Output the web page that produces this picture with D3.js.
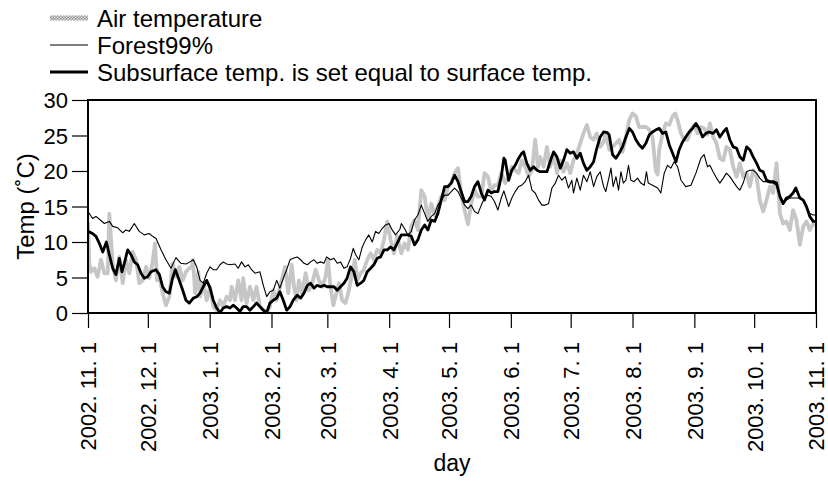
<!DOCTYPE html>
<html>
<head>
<meta charset="utf-8">
<script src="https://cdn.jsdelivr.net/npm/d3@7"></script>
<style>
  html, body { margin: 0; padding: 0; background: #fff; }
  svg { display: block; font-family: "Liberation Sans", Arial, Helvetica, sans-serif; }
</style>
</head>
<body>
<svg id="chart" width="828" height="481"></svg>
<script>
// Daily temperatures, 2002-11-01 .. 2003-11-01 (day offsets from start)
const startDate = Date.UTC(2002, 10, 1);
const endDate = Date.UTC(2003, 10, 1);

const seriesNames = ["Air temperature", "Forest99%", "Subsurface temp. is set equal to surface temp."];
const yTicks = [0, 5, 10, 15, 20, 25, 30];

const airDay = [0,0.7,1.5,3.2,4.8,6.5,8.2,9.9,10.7,12.4,14.0,15.7,17.4,19.0,20.7,22.4,24.1,25.7,27.4,29.1,30.7,32.4,33.6,34.6,35.8,37.4,39.1,40.8,42.4,44.1,45.8,47.5,49.1,50.8,
  52.0,52.6,53.7,55.3,56.2,57.8,59.5,61.2,62.8,64.5,66.2,67.8,69.5,71.2,72.0,73.7,75.3,77.0,77.8,79.5,81.2,82.9,84.5,86.2,87.9,89.6,91.2,92.9,94.6,97.1,98.8,100.4,102.1,
  103.3,104.6,105.8,107.4,109.1,110.8,112.4,114.1,115.8,117.5,119.1,120.3,121.6,123.0,124.1,125.8,127.4,129.1,130.8,132.5,133.8,135.0,136.7,138.3,140.0,141.7,143.3,145.0,146.7,148.4,150.0,151.7,153.4,155.0,
  157.1,158.7,160.4,162.1,163.7,165.4,167.1,168.8,170.4,172.1,173.8,175.4,177.1,178.8,180.5,182.1,183.8,185.5,187.1,188.8,190.5,192.1,193.8,195.5,197.2,198.8,200.5,202.2,203.8,205.5,207.2,
  209.2,210.9,212.5,214.2,215.9,217.5,219.2,220.9,222.6,224.2,225.6,226.7,228.4,230.1,231.7,233.4,235.1,236.8,238.4,240.1,241.8,243.4,245.1,246.8,248.4,250.1,251.8,253.5,255.1,256.8,258.5,
  259.6,261.3,263.0,264.7,266.3,268.0,269.7,271.4,273.0,274.7,276.3,278.0,279.7,281.4,283.0,284.7,285.6,286.4,288.1,289.7,291.4,293.1,294.4,295.6,297.3,298.9,300.6,302.3,303.9,305.6,307.3,308.9,310.6,
  311.8,313.4,315.1,316.8,318.5,320.1,321.8,323.5,325.2,326.8,328.5,330.2,331.8,333.5,335.2,336.8,338.5,340.2,341.9,343.5,345.2,346.9,348.5,350.2,351.9,353.5,355.2,356.9,358.6,360.2,361.9,363.6,365];
const airTemp = [12.9,7.0,5.8,6.3,5.1,7.5,5.6,5.6,14.0,6.8,4.6,7.9,4.2,7.5,5.6,8.6,7.5,4.2,4.6,6.5,4.9,7.2,9.8,4.6,5.1,2.8,1.1,2.3,7.0,5.1,6.5,4.6,5.8,6.3,
  6.5,7.5,2.8,5.8,2.3,4.2,1.8,3.7,0.9,0.4,1.8,0.9,2.3,1.8,3.7,1.8,4.6,1.8,4.9,1.4,3.7,1.8,3.7,0.9,0.4,0.0,0.9,3.2,1.8,4.6,6.5,2.8,6.8,
  3.7,1.8,4.6,2.8,5.6,3.2,4.2,6.1,4.6,3.7,5.1,7.5,3.7,1.1,2.3,4.2,1.8,1.4,3.2,5.6,7.5,4.6,5.6,6.1,7.5,8.4,7.5,8.9,8.4,10.3,12.9,10.3,8.4,10.8,
  8.4,9.8,8.9,12.2,13.1,11.7,17.3,16.4,13.1,15.4,13.8,15.0,16.4,15.9,17.8,18.3,19.7,20.4,16.9,14.5,12.5,15.4,17.3,16.4,16.4,19.7,19.2,17.1,18.0,18.0,19.7,
  18.3,19.2,20.6,20.1,19.7,21.5,20.6,19.2,20.1,24.4,20.6,22.0,20.6,23.4,20.6,22.3,19.7,21.5,19.9,21.1,19.7,21.5,22.5,23.9,25.3,26.5,24.8,24.4,25.3,23.4,24.1,
  25.3,23.0,23.4,23.9,24.4,22.7,24.8,27.2,28.1,27.7,26.2,26.2,26.2,25.8,24.8,20.0,19.5,23.0,25.3,26.7,26.5,27.7,28.1,27.2,25.3,24.4,24.4,25.8,26.5,25.3,26.2,26.0,25.1,
  26.7,24.8,23.9,21.8,21.5,23.4,23.0,20.6,19.2,21.1,19.2,19.7,17.8,20.1,19.2,15.9,14.3,15.9,17.8,16.9,21.1,14.0,12.6,12.9,11.7,14.5,13.1,9.6,12.2,12.9,11.7,12.6,12.4];

const forestDay = [0,2.3,4.0,5.7,8.2,10.7,12.4,14.9,17.4,19.0,20.7,23.2,25.7,28.2,30.7,32.4,34.1,36.6,39.1,41.6,44.1,46.6,49.1,51.1,
  52.8,54.5,56.2,57.8,59.5,61.2,62.8,64.5,66.2,67.8,69.5,71.2,73.7,75.3,77.0,78.7,80.4,82.0,83.7,86.2,87.9,89.6,91.2,92.9,94.6,96.2,97.9,99.6,101.3,102.9,
  104.9,106.6,108.3,110.0,111.6,113.3,114.9,116.6,118.3,119.6,121.6,123.3,125.0,126.6,128.3,129.9,131.6,133.0,134.2,135.8,137.5,139.2,140.8,142.5,144.2,145.8,147.5,149.2,150.9,152.5,154.2,156.4,
  157.1,158.7,160.4,162.1,163.7,165.4,167.1,168.8,170.4,172.1,173.8,175.4,177.1,178.8,180.5,182.1,183.8,185.5,187.1,188.8,190.5,192.1,193.8,195.5,197.2,198.8,200.5,202.2,203.8,205.5,207.2,208.5,
  210.9,212.5,214.2,215.9,217.5,219.2,220.9,222.6,224.2,225.9,227.6,229.3,230.9,232.6,234.3,235.9,237.6,239.3,240.9,242.6,243.4,245.1,246.8,248.4,250.1,251.8,253.5,255.1,256.8,258.5,
  259.6,261.3,262.2,263.3,264.7,266.0,267.2,268.4,269.7,271.0,272.2,273.8,275.5,277.2,278.9,280.0,280.9,283.0,285.6,287.2,288.9,290.6,292.2,293.9,295.6,297.3,299.7,302.3,304.8,307.3,308.9,310.6,
  311.8,313.4,315.1,316.8,318.5,320.1,321.8,323.5,325.2,326.8,328.5,330.2,331.8,333.5,335.2,336.8,338.5,340.2,341.9,343.5,345.2,346.9,348.5,350.2,351.9,353.5,356.9,358.6,360.2,361.9,363.6,365];
const forestTemp = [14.3,13.3,13.6,13.2,12.6,12.9,12.2,12.0,11.3,11.7,11.5,12.6,11.5,11.0,11.2,10.8,10.5,8.9,7.5,6.3,7.8,7.0,6.9,7.2,
  7.5,6.5,4.6,4.2,5.6,6.5,6.1,6.1,6.8,7.2,6.9,6.8,6.9,6.3,7.2,6.5,6.8,6.1,5.6,5.8,3.9,2.3,3.0,3.2,4.6,3.5,4.9,6.1,7.5,7.7,
  7.9,7.5,7.0,6.8,7.2,7.5,7.0,7.2,7.0,7.9,7.5,7.7,7.0,7.2,6.3,6.5,7.7,9.1,8.2,7.5,9.3,10.3,11.0,10.0,11.5,11.2,11.9,12.4,12.6,11.7,11.0,11.8,
  12.6,11.9,11.0,11.5,13.1,13.8,15.2,14.0,12.9,13.6,14.0,15.2,15.9,16.6,16.6,17.1,17.6,17.1,16.2,15.2,14.7,15.2,14.3,14.0,15.2,16.2,16.6,16.4,15.7,14.5,16.2,17.2,
  15.0,16.2,17.1,17.8,18.0,18.5,19.4,17.3,16.9,15.9,15.2,15.2,15.4,17.6,18.3,19.4,18.7,19.2,17.6,18.7,16.9,19.0,17.3,19.4,18.5,19.9,17.8,19.2,19.9,17.8,
  17.1,19.2,20.4,17.8,19.2,17.3,19.9,18.3,18.7,20.8,18.7,18.5,19.0,18.3,18.0,19.9,18.3,18.0,17.6,16.9,19.7,20.8,20.4,21.3,20.6,18.7,17.8,18.0,19.7,21.8,22.3,20.6,
  20.8,19.9,19.0,18.3,19.0,19.7,19.2,18.5,17.8,17.3,18.3,19.9,20.1,20.1,19.7,19.0,18.5,18.5,18.3,18.3,18.0,16.6,15.7,15.9,16.2,16.2,16.2,15.9,15.0,14.0,13.8,13.8];

const subDay = [0,2.3,4.0,5.7,7.4,9.2,10.7,12.4,14.0,15.7,17.0,18.2,19.9,21.6,23.2,24.9,26.6,28.2,29.9,31.6,34.1,35.8,37.4,39.1,40.8,42.4,43.8,45.4,47.5,49.1,50.8,
  52.8,54.5,56.2,57.8,59.5,61.2,62.8,64.5,66.2,67.8,69.5,71.2,72.8,74.5,76.2,77.8,79.5,81.2,82.9,84.5,86.2,87.9,89.6,91.2,92.9,94.6,96.2,97.9,99.6,101.3,102.9,
  104.9,106.6,108.3,110.0,111.6,113.3,114.9,116.6,118.3,119.9,121.6,123.3,125.0,126.6,128.3,129.9,131.6,133.3,135.0,136.7,138.3,140.0,141.7,143.3,145.0,146.7,148.4,150.0,151.7,153.4,155.0,
  157.1,158.7,160.4,162.1,163.7,165.4,167.1,168.8,170.4,172.1,173.8,175.4,177.1,178.8,180.5,182.1,183.8,185.5,187.1,188.8,190.5,192.1,193.8,195.5,197.2,198.8,200.5,202.2,203.8,205.5,207.2,208.5,
  209.2,210.9,212.5,214.2,215.9,217.5,218.4,220.0,221.7,223.4,225.1,226.7,228.4,230.1,231.7,233.4,235.1,236.8,238.4,240.1,241.8,243.4,245.1,246.8,248.4,250.1,251.8,253.5,255.1,256.8,258.5,
  260.4,261.3,263.0,264.7,266.3,268.0,269.7,271.4,273.0,274.7,276.3,278.0,279.7,281.4,283.0,284.7,286.4,288.1,289.7,291.4,293.1,294.8,296.4,298.1,299.7,301.4,303.1,304.8,306.4,308.1,309.8,311.4,
  313.4,315.1,316.8,318.5,320.1,321.8,323.5,325.2,326.8,328.5,330.2,331.8,333.5,335.2,336.8,338.5,340.2,341.9,343.5,345.2,346.9,348.5,350.2,351.9,353.5,354.9,356.9,358.6,360.2,361.9,363.6,365];
const subTemp = [11.5,11.2,10.8,9.8,8.6,10.0,8.2,6.3,5.4,7.7,5.8,7.0,8.9,8.2,7.2,6.8,5.6,4.9,5.1,5.8,6.1,5.4,3.7,3.0,2.8,4.9,6.1,4.9,3.2,1.8,1.4,
  2.1,2.3,2.8,3.7,4.6,3.5,1.8,0.7,0.05,0.7,0.9,0.7,1.1,0.7,0.2,0.9,0.9,0.4,0.9,1.4,0.9,0.4,0.05,1.4,1.8,2.1,3.0,1.8,0.4,0.9,1.8,
  2.5,2.1,2.8,3.9,4.2,3.5,3.9,3.7,3.9,3.7,3.7,3.7,3.2,3.7,4.2,4.9,6.5,5.8,3.9,4.2,4.6,5.8,6.3,6.8,7.7,7.9,8.9,8.9,9.3,8.9,9.8,
  11.0,11.0,11.0,10.8,9.6,10.3,11.7,12.4,11.7,13.1,12.9,14.0,15.9,17.8,17.8,18.3,19.4,18.5,17.1,15.7,15.7,16.4,17.8,18.5,16.9,15.9,17.3,16.9,17.1,17.1,19.2,21.8,
  21.5,18.7,20.1,20.8,21.8,22.5,22.7,21.1,20.1,20.6,20.1,19.9,19.9,19.9,21.3,22.7,22.0,20.4,21.5,23.0,22.5,22.7,21.8,22.5,21.1,20.1,20.6,21.3,23.2,24.8,25.5,
  25.4,25.1,22.3,21.8,22.5,23.4,24.8,26.0,25.5,24.4,23.7,23.2,23.9,25.1,25.5,25.8,26.0,25.3,25.5,23.7,22.5,21.3,23.0,24.1,24.8,25.5,26.0,26.7,26.0,24.8,25.3,25.5,
  25.3,25.8,24.8,25.5,26.0,24.4,23.4,23.2,22.0,21.5,23.4,23.0,22.0,21.1,20.1,19.9,18.7,18.5,18.5,18.3,16.4,15.4,16.2,16.4,16.9,17.6,16.2,15.9,15.0,13.6,12.9,12.9];

const monthTicks = d3.utcMonth.range(startDate, endDate + 1);

// Plot frame
const plot = { left: 88, top: 100, right: 816, bottom: 313 };
const svg = d3.select("#chart");
const fontFamily = "'Liberation Sans', Arial, sans-serif";

const x = d3.scaleUtc().domain([startDate, endDate]).range([plot.left, plot.right]);
const y = d3.scaleLinear().domain([0, 30]).range([plot.bottom, plot.top]);
const dayToDate = d => new Date(startDate + d * 86400000);

const toPoints = (days, temps) => days.map((d, i) => ({ t: dayToDate(d), v: temps[i] }));
const line = d3.line().x(p => x(p.t)).y(p => y(p.v));

svg.append("defs").append("clipPath").attr("id", "plotClip")
  .append("rect")
  .attr("x", plot.left).attr("y", plot.top)
  .attr("width", plot.right - plot.left).attr("height", plot.bottom - plot.top);

const lines = svg.append("g").attr("clip-path", "url(#plotClip)");
lines.append("path").datum(toPoints(airDay, airTemp))
  .attr("d", line).attr("fill", "none")
  .attr("stroke", "#c6c6c6").attr("stroke-width", 3.8).attr("stroke-linejoin", "round");
lines.append("path").datum(toPoints(forestDay, forestTemp))
  .attr("d", line).attr("fill", "none")
  .attr("stroke", "#000").attr("stroke-width", 1.1).attr("stroke-linejoin", "round");
lines.append("path").datum(toPoints(subDay, subTemp))
  .attr("d", line).attr("fill", "none")
  .attr("stroke", "#000").attr("stroke-width", 2.8).attr("stroke-linejoin", "round");

// Axes
const yAxis = svg.append("g")
  .attr("transform", `translate(${plot.left},0)`)
  .call(d3.axisLeft(y).tickValues(yTicks).tickSize(16).tickPadding(4));
yAxis.select(".domain").remove();
yAxis.selectAll("line").attr("stroke", "#000").attr("stroke-width", 1.2);
yAxis.selectAll("text").attr("font-size", 22).attr("fill", "#000")
  .attr("dy", "0.36em")
  .style("font-family", fontFamily);

const fmt = d => `${d.getUTCFullYear()}. ${d.getUTCMonth() + 1}. ${d.getUTCDate()}`;
const xAxis = svg.append("g")
  .attr("transform", `translate(0,${plot.bottom})`)
  .call(d3.axisBottom(x).tickValues(monthTicks).tickFormat(fmt).tickSize(15));
xAxis.select(".domain").remove();
xAxis.selectAll("line").attr("stroke", "#000").attr("stroke-width", 1.2);
xAxis.selectAll("text")
  .attr("font-size", 22).attr("fill", "#000")
  .style("font-family", fontFamily)
  .attr("y", 0).attr("x", -29).attr("dy", "0.36em")
  .attr("transform", "rotate(-90)")
  .style("text-anchor", "end");

svg.append("rect")
  .attr("x", plot.left).attr("y", plot.top)
  .attr("width", plot.right - plot.left).attr("height", plot.bottom - plot.top)
  .attr("fill", "none").attr("stroke", "#000").attr("stroke-width", 2);

// Axis titles
svg.append("text")
  .attr("transform", `translate(34,${(plot.top + plot.bottom) / 2}) rotate(-90)`)
  .attr("text-anchor", "middle").attr("font-size", 24).text("Temp (˚C)");
svg.append("text")
  .attr("x", (plot.left + plot.right) / 2).attr("y", 471)
  .attr("text-anchor", "middle").attr("font-size", 23).text("day");

// Legend
const pattern = svg.select("defs").append("pattern")
  .attr("id", "hatch").attr("patternUnits", "userSpaceOnUse")
  .attr("width", 3).attr("height", 3);
pattern.append("rect").attr("width", 3).attr("height", 3).attr("fill", "#e4e4e4");
pattern.append("rect").attr("width", 1.5).attr("height", 1.5).attr("fill", "#8a8a8a");
pattern.append("rect").attr("x", 1.5).attr("y", 1.5).attr("width", 1.5).attr("height", 1.5).attr("fill", "#8a8a8a");

const legend = svg.append("g");
const rowY = [18, 45, 72];
seriesNames.forEach((name, i) => {
  const g = legend.append("g").attr("transform", `translate(0,${rowY[i]})`);
  if (i === 0) {
    g.append("rect").attr("x", 50).attr("y", -2.5).attr("width", 38).attr("height", 5).attr("fill", "url(#hatch)");
  } else {
    g.append("line").attr("x1", 50).attr("x2", 88).attr("y1", 0).attr("y2", 0)
      .attr("stroke", "#000").attr("stroke-width", i === 1 ? 1.1 : 2.8);
  }
  g.append("text").attr("x", 97).attr("dy", "0.36em").attr("font-size", 24).text(name);
});
</script>
</body>
</html>
